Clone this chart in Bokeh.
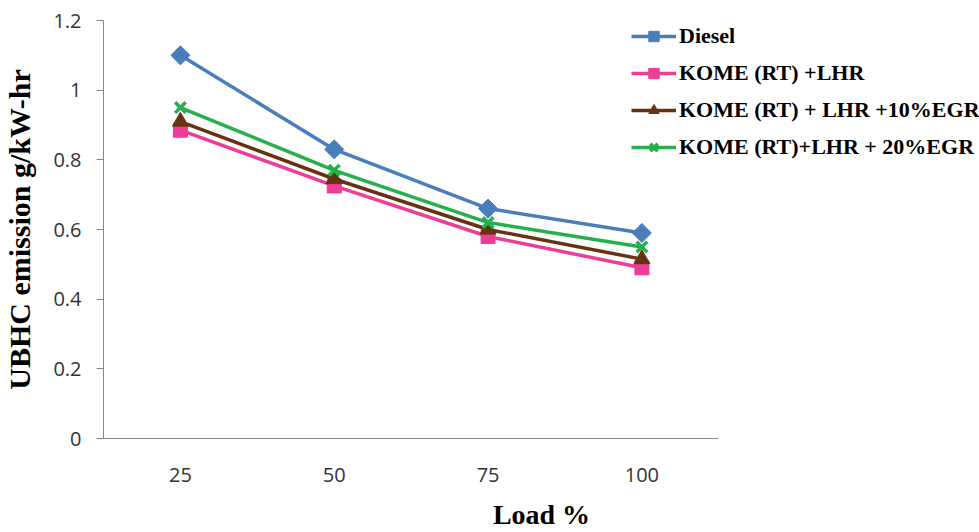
import math
from bokeh.plotting import figure
from bokeh.models import Range1d, FixedTicker, Legend
from bokeh.embed import file_html
from bokeh.resources import INLINE

loads = [25, 50, 75, 100]
load_labels = ["25", "50", "75", "100"]
diesel = [1.10, 0.83, 0.66, 0.59]
kome_lhr = [0.885, 0.725, 0.58, 0.49]
kome_lhr_egr10 = [0.91, 0.745, 0.60, 0.515]
kome_lhr_egr20 = [0.95, 0.77, 0.62, 0.55]
y_ticks = [0, 0.2, 0.4, 0.6, 0.8, 1, 1.2]
y_tick_labels = ["0", "0.2", "0.4", "0.6", "0.8", "1", "1.2"]

series = [
    ("Diesel", diesel, "#4A7EBB", "square", 13.5, math.pi / 4),
    ("KOME (RT) +LHR", kome_lhr, "#EE3D96", "square", 14, 0),
    ("KOME (RT) + LHR +10%EGR", kome_lhr_egr10, "#663311", "triangle", 16, 0),
    ("KOME (RT)+LHR + 20%EGR", kome_lhr_egr20, "#25B04B", "x", 15, 0),
]

# x scale: axis spans 12.5..112.5 (four category slots of 25), frame extends right for the legend
x_start, x_axis_end, x_end = 12.5, 112.5, 12.5 + 877 / 154 * 25

p = figure(width=979, height=532, output_backend="svg", toolbar_location=None,
           x_range=Range1d(x_start, x_end), y_range=Range1d(0, 1.2),
           min_border_left=102, min_border_right=0, min_border_top=20, min_border_bottom=93)
p.outline_line_color = None
p.xgrid.grid_line_color = None
p.ygrid.grid_line_color = None
p.background_fill_color = "white"
p.border_fill_color = "white"

items = []
for name, vals, col, marker, size, ang in series:
    r1 = p.line(loads, vals, line_color=col, line_width=3.5)
    if marker == "x":
        r2 = p.scatter(loads, vals, marker=marker, size=size, line_color=col, line_width=3.5)
    else:
        r2 = p.scatter(loads, vals, marker=marker, size=size, angle=ang,
                       fill_color=col, line_color=col)
    items.append((name, [r1, r2]))

legend = Legend(items=items, location=(528, 278), padding=0, margin=0, spacing=11,
                glyph_width=45, glyph_height=26, label_height=26, label_standoff=3,
                border_line_color=None, background_fill_alpha=0,
                label_text_font_style="bold",
                label_text_font_size="22px", label_text_color="black")
legend.label_text_font = "Times New Roman"
p.add_layout(legend, "center")

p.yaxis.ticker = FixedTicker(ticks=y_ticks)
p.yaxis.major_label_overrides = {t: l for t, l in zip(y_ticks, y_tick_labels)}
p.yaxis.major_tick_out = 7
p.yaxis.major_tick_in = 0
p.yaxis.minor_tick_line_color = None
p.yaxis.major_label_standoff = 15
p.yaxis.axis_line_color = "#868686"
p.yaxis.major_tick_line_color = "#868686"
p.yaxis.axis_label = "UBHC emission g/kW-hr"
p.yaxis.axis_label_text_font = "Liberation Serif"
p.yaxis.axis_label_text_font_style = "bold"
p.yaxis.axis_label_text_font_size = "30px"
p.yaxis.axis_label_text_color = "black"
p.yaxis.axis_label_standoff = 14

p.xaxis.ticker = FixedTicker(ticks=loads)
p.xaxis.major_label_overrides = {t: l for t, l in zip(loads, load_labels)}
p.xaxis.bounds = (x_start, x_axis_end)
p.xaxis.major_tick_line_color = None
p.xaxis.minor_tick_line_color = None
p.xaxis.major_tick_out = 0
p.xaxis.major_tick_in = 0
p.xaxis.axis_line_color = "#868686"
p.xaxis.major_label_standoff = 29
p.xaxis.axis_label = "Load %"
p.xaxis.axis_label_text_font = "Liberation Serif"
p.xaxis.axis_label_text_font_style = "bold"
p.xaxis.axis_label_text_font_size = "28px"
p.xaxis.axis_label_text_color = "black"
p.xaxis.axis_label_standoff = 14

for ax in (p.xaxis, p.yaxis):
    ax.major_label_text_font = "Open Sans"
    ax.major_label_text_font_size = "20px"
    ax.major_label_text_color = "#333333"

open("out.html", "w").write(file_html(p, INLINE))
